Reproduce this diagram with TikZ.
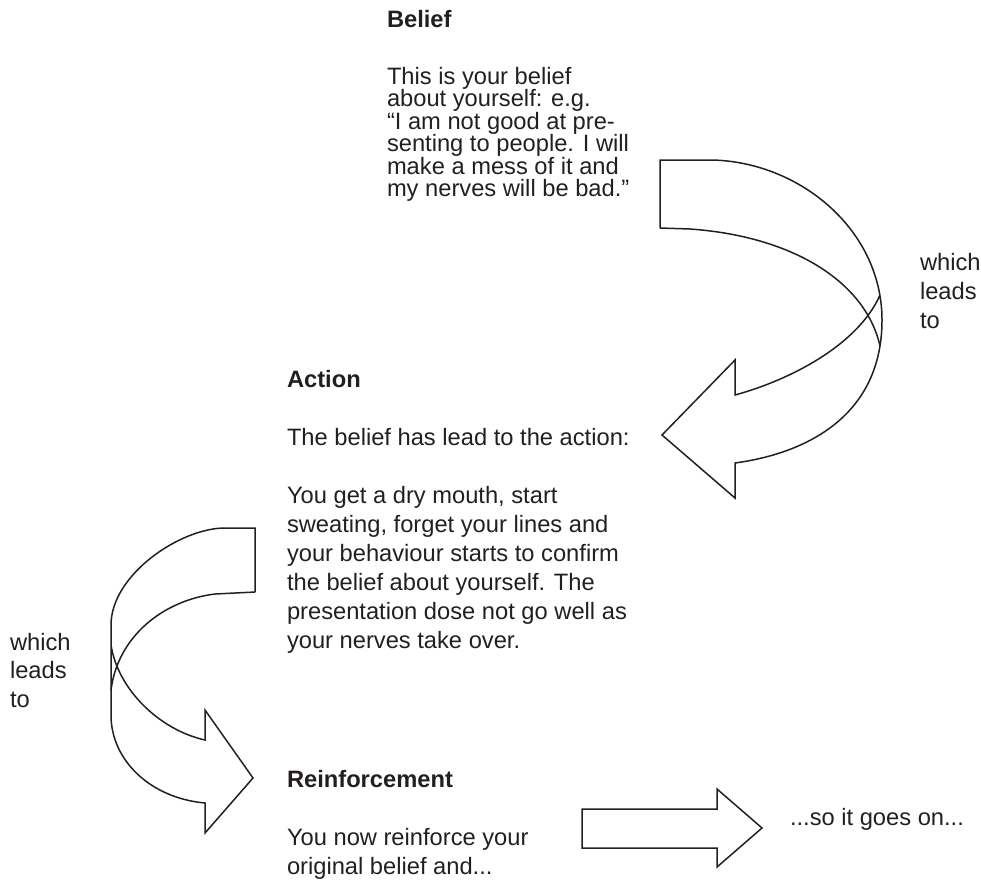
\documentclass[tikz,border=0pt]{standalone}
\usepackage{fontspec}
\setmainfont{Liberation Sans}
\definecolor{ink}{HTML}{231F20}
\begin{document}
\begin{tikzpicture}[x=1pt,y=-1pt,
  txt/.style={anchor=base west, inner sep=0pt, outer sep=0pt, text=ink, font=\fontsize{23.7pt}{29pt}\selectfont},
  ttl/.style={txt, font=\fontsize{23.7pt}{29pt}\selectfont\bfseries},
  blockarrow/.style={draw=ink, line width=1.5pt, line join=miter, fill=none}]
\useasboundingbox (0,0) rectangle (981,879);

% ---------- Belief block ----------
\node[ttl] (belieft) at (387,27) {Belief};
\node[txt] (bl1) at (387,84)    {This is your belief};
\node[txt] (bl2) at (387,106.5) {about yourself: e.g.};
\node[txt] (bl3) at (387,129)   {“I am not good at pre-};
\node[txt] (bl4) at (387,151.5) {senting to people. I will};
\node[txt] (bl5) at (387,174)   {make a mess of it and};
\node[txt] (bl6) at (387,196.5) {my nerves will be bad.”};

% ---------- right "which leads to" ----------
\node[txt] (rw1) at (920,270) {which};
\node[txt] (rw2) at (920,299) {leads};
\node[txt] (rw3) at (920,328) {to};

% ---------- Action block ----------
\node[ttl] (actiont) at (287,387) {Action};
\node[txt] (a0) at (287,445) {The belief has lead to the action:};
\node[txt] (a1) at (287,503) {You get a dry mouth, start};
\node[txt] (a2) at (287,532) {sweating, forget your lines and};
\node[txt] (a3) at (287,561) {your behaviour starts to confirm};
\node[txt] (a4) at (287,590) {the belief about yourself. The};
\node[txt] (a5) at (287,619) {presentation dose not go well as};
\node[txt] (a6) at (287,648) {your nerves take over.};

% ---------- left "which leads to" ----------
\node[txt] (lw1) at (10,650)   {which};
\node[txt] (lw2) at (10,678.5) {leads};
\node[txt] (lw3) at (10,707)   {to};

% ---------- Reinforcement block ----------
\node[ttl] (reinft) at (287,787) {Reinforcement};
\node[txt] (r1) at (287,845) {You now reinforce your};
\node[txt] (r2) at (287,874) {original belief and...};
\node[txt] (goes) at (790,825) {...so it goes on...};

% ---------- top-right twisted arrow ----------
\draw[blockarrow] (660,228) -- (660,160) -- (712,160)
  .. controls (800,162) and (882,230) .. (882,320)
  .. controls (882,410) and (815,452) .. (735,463)
  -- (735,498) -- (662,435) -- (735,360) -- (735,395)
  .. controls (790,380) and (858,345) .. (880,295);
\draw[blockarrow] (660,228) -- (690,229)
  .. controls (790,236) and (865,280) .. (880,346);

% ---------- left twisted arrow ----------
\draw[blockarrow] (255,592) -- (255,528) -- (225,528)
  .. controls (180,528) and (111,575) .. (111,625) -- (111,715)
  .. controls (111,760) and (150,798) .. (205,803)
  -- (205,833) -- (253,778) -- (205,710) -- (205,740)
  .. controls (160,730) and (118,690) .. (111,645);
\draw[blockarrow] (255,592) -- (215,594)
  .. controls (165,600) and (118,635) .. (111,690);

% ---------- straight arrow ----------
\draw[blockarrow] (582,809) -- (717,809) -- (717,789) -- (762,828)
  -- (717,867) -- (717,848) -- (582,848) -- cycle;
\end{tikzpicture}
\end{document}
